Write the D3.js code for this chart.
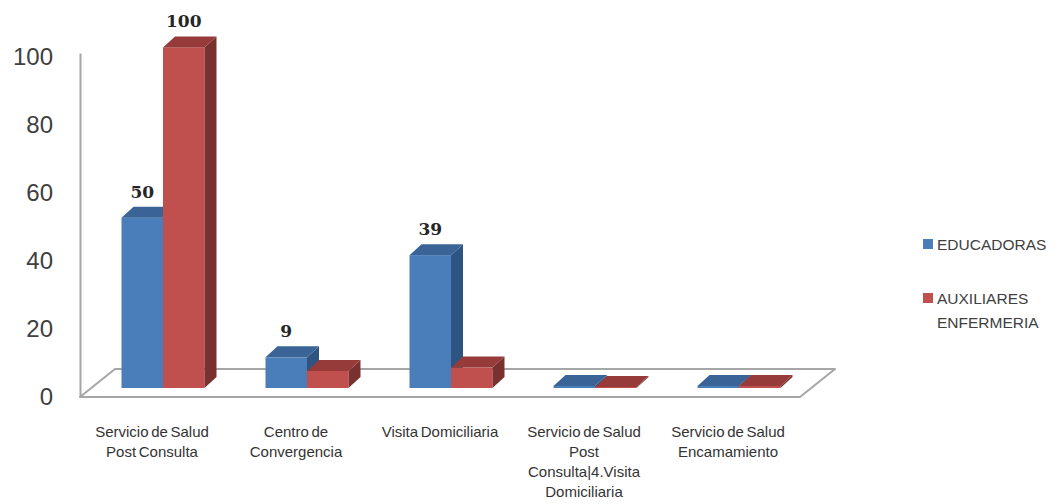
<!DOCTYPE html>
<html>
<head>
<meta charset="utf-8">
<script src="https://cdn.jsdelivr.net/npm/d3@7"></script>
<style>
  html, body { margin: 0; padding: 0; background: #ffffff; }
  svg { display: block; }
</style>
</head>
<body>
<svg id="chart" width="1054" height="504"></svg>
<script>
// Categories (each label split into its display lines)
const categories = [
  ["Servicio de Salud", "Post Consulta"],
  ["Centro de", "Convergencia"],
  ["Visita Domiciliaria"],
  ["Servicio de Salud", "Post", "Consulta|4.Visita", "Domiciliaria"],
  ["Servicio de Salud", "Encamamiento"]
];
const seriesNames = ["EDUCADORAS", "AUXILIARES ENFERMERIA"];
const educadoras = [50, 9, 39, 0.6, 0.6];
const auxiliares = [100, 5, 6, 0.3, 0.6];
// which values carry a data label
const labelEducadoras = [true, true, true, false, false];
const labelAuxiliares = [true, false, false, false, false];
const yTicks = [0, 20, 40, 60, 80, 100];

const palette = {
  edu: { front: "#4a7ebb", top: "#3a6496", side: "#2e5581" },
  aux: { front: "#c0504d", top: "#963b39", side: "#7a302e" }
};

const svg = d3.select("#chart");

// 3D projection offsets
const depthX = 35, depthY = -28;      // floor depth
const barDX = 12, barDY = -11;        // bar depth
const planeDX = 11, planeDY = -9;     // plane on which bars stand

// front plane
const x = d3.scaleBand().domain(d3.range(categories.length)).range([80, 800]).paddingInner(0).paddingOuter(0);
const yAxisScale = d3.scaleLinear().domain([0, 101]).range([397, 53]);
// bar plane
const yBar = v => yAxisScale(v) + planeDY;
const barW = 41.5;

// floor
const fx0 = 80, fx1 = 800, fy = yAxisScale(0);
svg.append("path")
  .attr("d", `M${fx0},${fy} L${fx0 + depthX},${fy + depthY} L${fx1 + depthX},${fy + depthY} L${fx1},${fy} Z`)
  .attr("fill", "#ffffff")
  .attr("stroke", "#a6a6a6")
  .attr("stroke-width", 2)
  .attr("stroke-linejoin", "round");

// y axis
const axis = svg.append("g")
  .attr("transform", "translate(80,0)")
  .call(d3.axisLeft(yAxisScale).tickValues(yTicks).tickSize(0).tickPadding(27).tickSizeOuter(0));
axis.select(".domain").attr("stroke", "#a6a6a6").attr("stroke-width", 2);
axis.selectAll(".tick text")
  .attr("font-family", "'Liberation Sans', Arial, sans-serif")
  .attr("font-size", 24)
  .attr("fill", "#404040");

function drawBar(g, x0, v, col) {
  const yt = yBar(v), yb = yBar(0);
  g.append("rect")
    .attr("x", x0).attr("y", yt).attr("width", barW).attr("height", Math.max(0, yb - yt))
    .attr("fill", col.front);
  g.append("path")
    .attr("d", `M${x0 + barW},${yt} L${x0 + barW + barDX},${yt + barDY} L${x0 + barW + barDX},${yb + barDY} L${x0 + barW},${yb} Z`)
    .attr("fill", col.side);
  g.append("path")
    .attr("d", `M${x0},${yt} L${x0 + barDX},${yt + barDY} L${x0 + barW + barDX},${yt + barDY} L${x0 + barW},${yt} Z`)
    .attr("fill", col.top);
}

const bars = svg.append("g");
const labels = svg.append("g")
  .attr("font-family", "'DejaVu Serif', serif")
  .attr("font-weight", "bold")
  .attr("font-size", 17)
  .attr("fill", "#262626")
  .attr("text-anchor", "middle");

categories.forEach((c, i) => {
  const groupStart = x(i) + planeDX + (x.bandwidth() - 2 * barW) / 2;
  const series = [
    { v: educadoras[i], col: palette.edu, show: labelEducadoras[i], x0: groupStart },
    { v: auxiliares[i], col: palette.aux, show: labelAuxiliares[i], x0: groupStart + barW }
  ];
  series.forEach(s => {
    drawBar(bars, s.x0, s.v, s.col);
    if (s.show) {
      labels.append("text")
        .attr("x", s.x0 + barW / 2)
        .attr("y", yBar(s.v) + barDY - 9)
        .text(s.v);
    }
  });
});

// category labels
const catG = svg.append("g")
  .attr("font-family", "'Liberation Sans', Arial, sans-serif")
  .attr("font-size", 15)
  .attr("fill", "#333333")
  .attr("text-anchor", "middle")
  .attr("word-spacing", -1.5);
categories.forEach((lines, i) => {
  const t = catG.append("text").attr("x", x(i) + x.bandwidth() / 2).attr("y", 437);
  lines.forEach((ln, j) => {
    t.append("tspan").attr("x", x(i) + x.bandwidth() / 2).attr("dy", j === 0 ? 0 : 20).text(ln);
  });
});

// legend
const legend = svg.append("g")
  .attr("font-family", "'Liberation Sans', Arial, sans-serif")
  .attr("font-size", 15.5)
  .attr("fill", "#404040");
const legendItems = [
  { lines: ["EDUCADORAS"], col: palette.edu.front, y: 244 },
  { lines: ["AUXILIARES", "ENFERMERIA"], col: palette.aux.front, y: 298 }
];
legendItems.forEach(it => {
  legend.append("rect").attr("x", 923).attr("y", it.y - 5).attr("width", 10).attr("height", 10).attr("fill", it.col);
  const t = legend.append("text").attr("x", 937).attr("y", it.y + 5.5);
  it.lines.forEach((ln, j) => {
    t.append("tspan").attr("x", 937).attr("dy", j === 0 ? 0 : 24).text(ln);
  });
});
</script>
</body>
</html>
